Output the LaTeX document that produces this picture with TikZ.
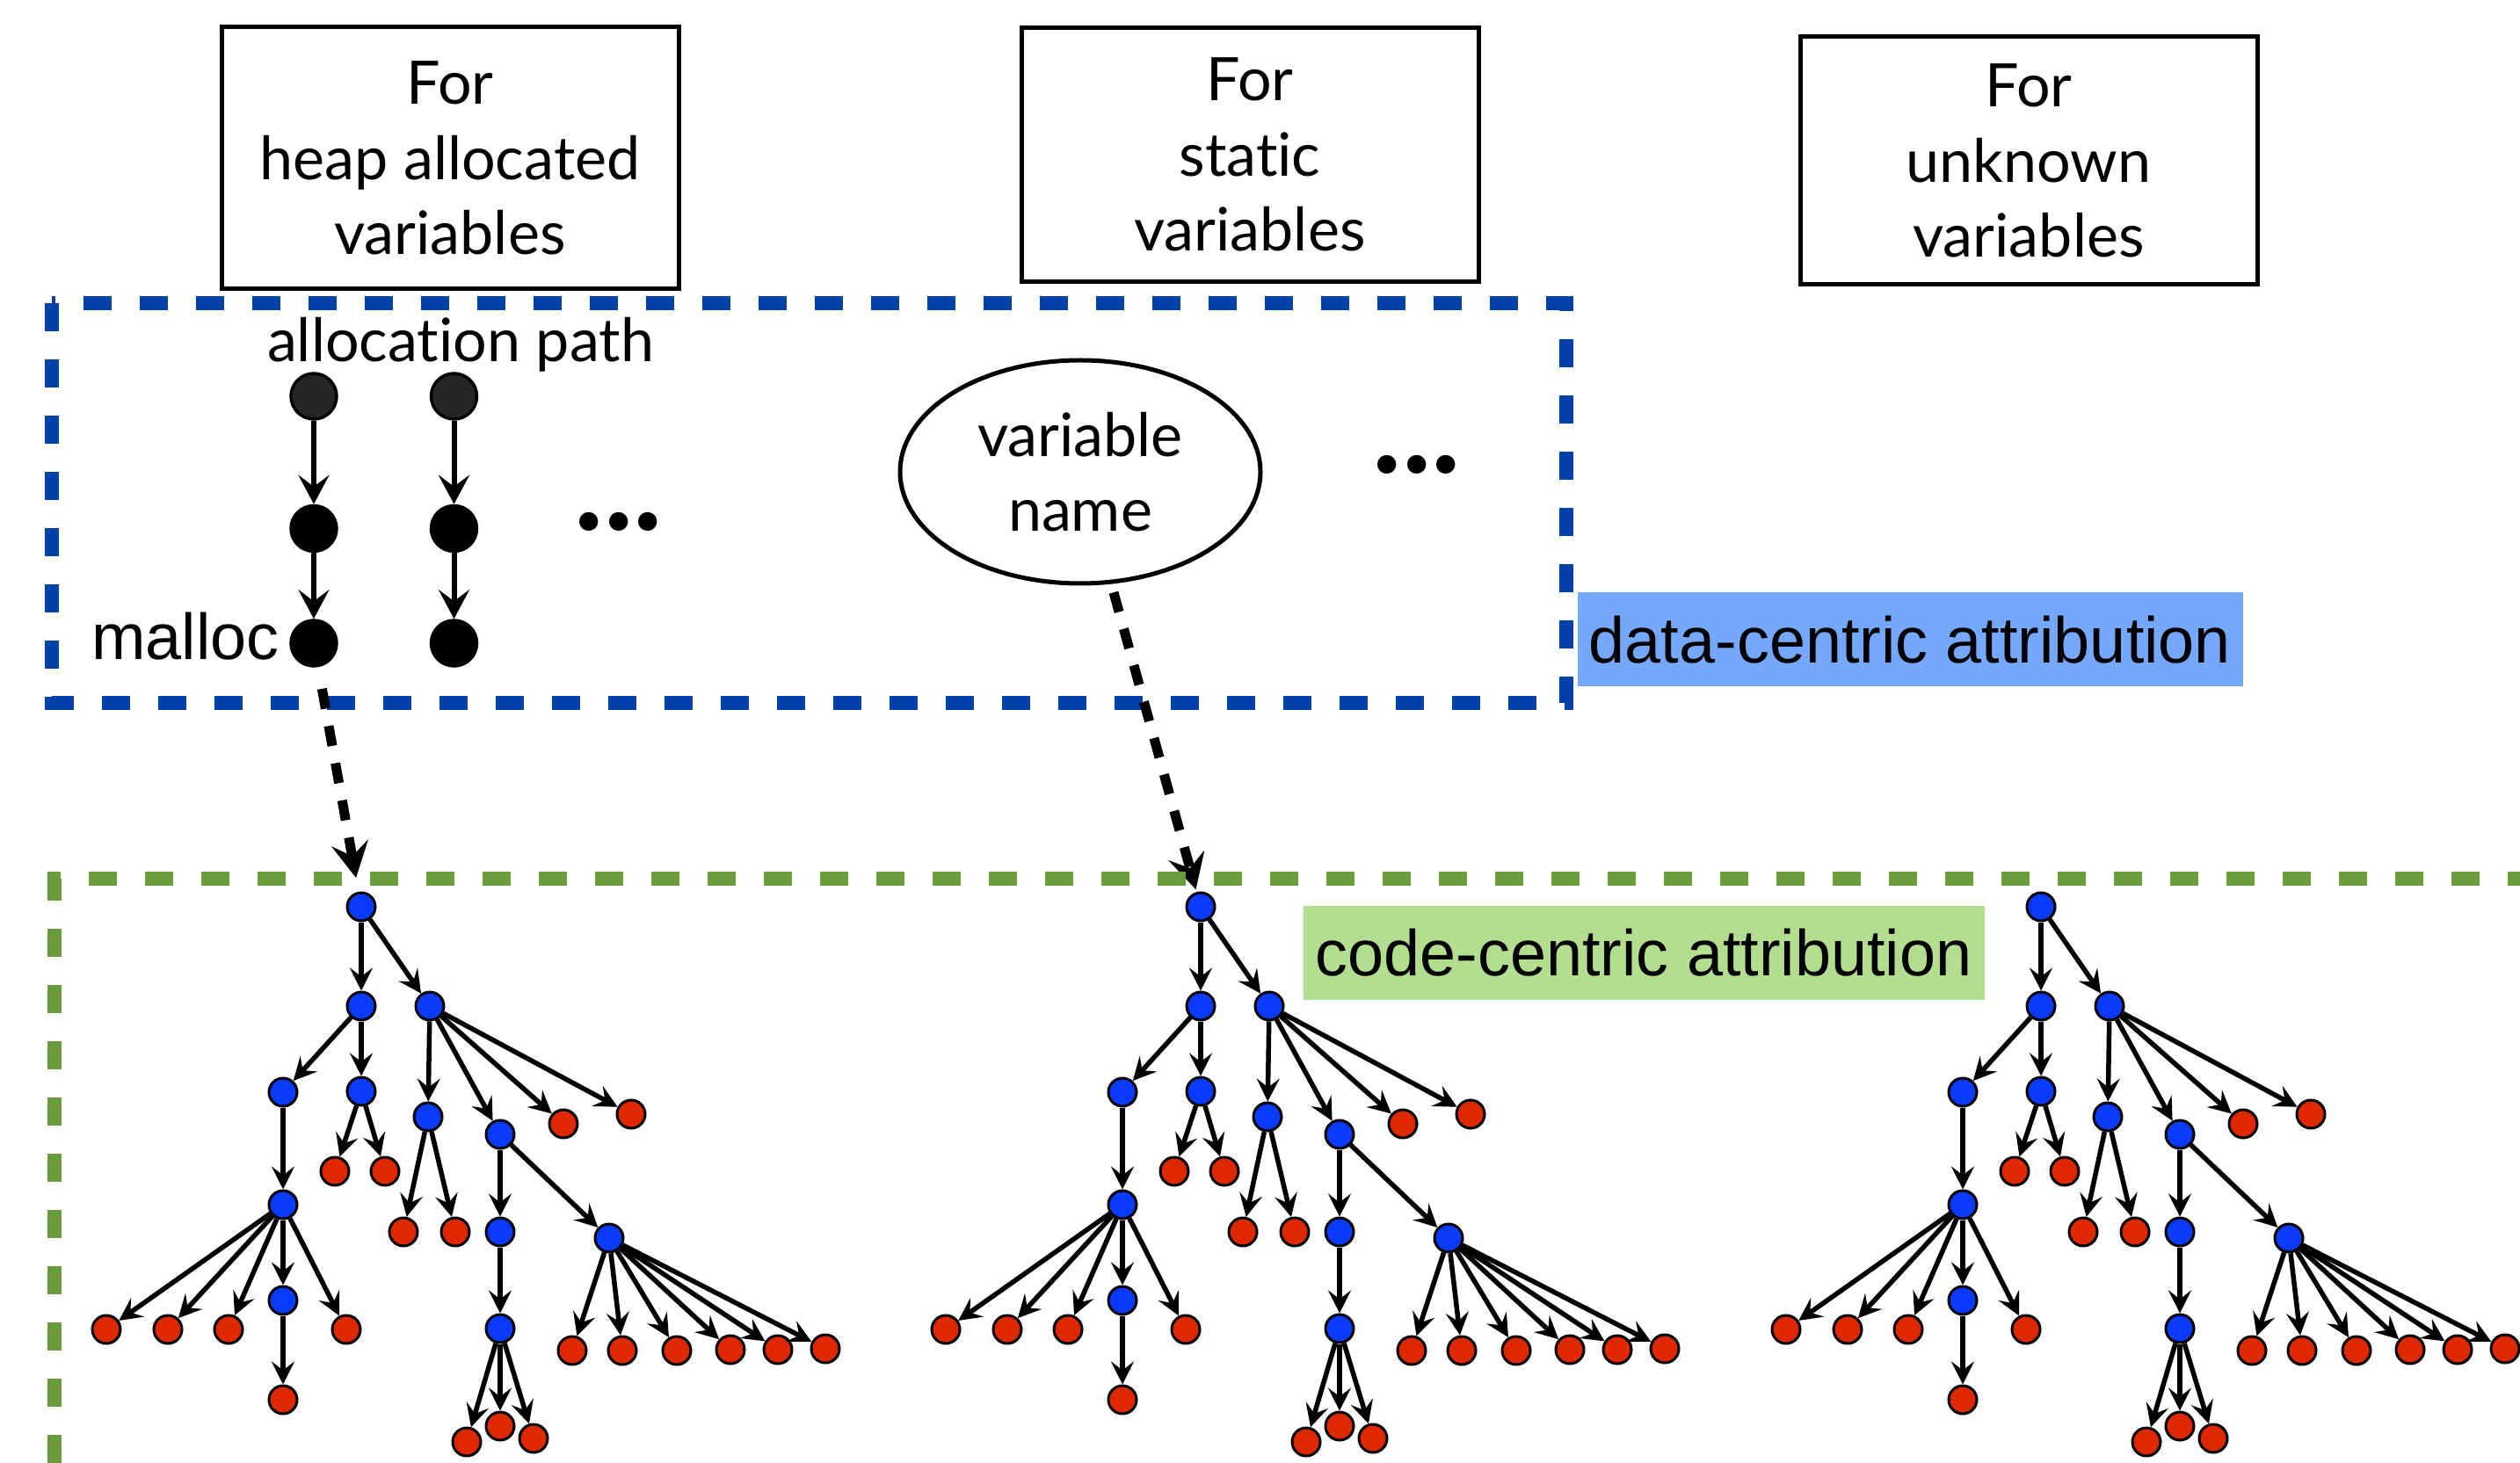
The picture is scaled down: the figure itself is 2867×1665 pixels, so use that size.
\documentclass[tikz,border=0pt]{standalone}
\usepackage{fontspec}
\setmainfont{Lato}[Ligatures={NoCommon,NoRare}]
\newfontfamily\arialfont{Liberation Sans}
\usepackage{tikz}
\usetikzlibrary{arrows.meta,positioning,shapes.geometric}

\definecolor{frameblue}{RGB}{0,65,170}
\definecolor{framegreen}{RGB}{106,156,58}
\definecolor{labelblue}{RGB}{117,167,251}
\definecolor{labelgreen}{RGB}{179,221,143}
\definecolor{nodeblue}{RGB}{10,58,250}
\definecolor{nodered}{RGB}{222,40,0}
\definecolor{pathgray}{RGB}{38,38,38}

% one calling context tree, same shape for every kind of variable
\newcommand{\calltree}{%
  \foreach \n/\x/\y in {root/411/1032, a/411/1145, b/489/1145, c/322/1243, d/411/1242,
      e/322/1371, f/322/1480, g/487/1271, h/569/1291, i/569/1402, k/693/1409, j/569/1512}
    \node[callnode] (\n) at (\x,\y) {};
  \foreach \n/\x/\y in {d1/381/1333, d2/438/1333, e1/121/1513, e2/191/1513, e3/260/1513,
      e5/394/1513, f1/322/1593, b3/641/1279, b4/718/1268, g1/459/1402, g2/518/1402,
      j1/531/1641, j2/569/1623, j3/607/1637, k1/651/1537, k2/708/1537, k3/770/1537,
      k4/831/1536, k5/885/1536, k6/939/1535}
    \node[leafnode] (\n) at (\x,\y) {};
  \foreach \s/\t in {root/a, root/b, a/c, a/d, d/d1, d/d2, c/e, e/e1, e/e2, e/e3, e/f,
      e/e5, f/f1, b/g, b/h, b/b3, b/b4, g/g1, g/g2, h/i, h/k, i/j, j/j1, j/j2, j/j3,
      k/k1, k/k2, k/k3, k/k4, k/k5, k/k6}
    \draw[callarrow] (\s) -- (\t);
}

\begin{document}
\begin{tikzpicture}[
    x=0.1mm, y=-0.1mm,
    varbox/.style={rectangle, draw, line width=0.5mm, minimum width=52mm, align=center, font=\fontsize{19.4}{24.3}\selectfont},
    pathnode/.style={circle, draw, line width=0.35mm, fill=black, minimum size=5.2mm, inner sep=0pt},
    callnode/.style={circle, draw, line width=0.3mm, fill=nodeblue, minimum size=3.2mm, inner sep=0pt},
    leafnode/.style={callnode, fill=nodered},
    callarrow/.style={-{Stealth[length=2.6mm, width=2.6mm, inset=1mm]}, line width=0.55mm},
    patharrow/.style={-{Stealth[length=3.3mm, width=3.5mm, inset=1.3mm]}, line width=0.6mm},
    linkarrow/.style={-{Stealth[length=4mm, width=4.2mm, inset=1.5mm]}, line width=1.1mm, dash pattern=on 2.3mm off 2mm},
    dashframe/.style={line width=1.6mm, dash pattern=on 3.2mm off 3.2mm},
    attrlabel/.style={minimum height=10.7mm, inner sep=0pt, font=\arialfont\fontsize{21}{25}\selectfont},
    moredots/.style={inner sep=0pt, font=\fontsize{40}{40}\selectfont\bfseries}
]
    \useasboundingbox (0,0) rectangle (2867,1665);

    % kinds of variables
    \node[varbox, minimum height=29.8mm] (heapbox) at (512,180) {For\\heap allocated\\variables};
    \node[varbox, minimum height=28.9mm] (staticbox) at (1422,176) {For\\static\\variables};
    \node[varbox, minimum height=28.2mm] (unknownbox) at (2308,183) {For\\unknown\\variables};

    % data-centric part
    \draw[dashframe, frameblue] (59,345) rectangle (1782,800);
    \node (allocpath) at (524,392) {\fontsize{19.4}{24.3}\selectfont allocation path};
    \node[pathnode, fill=pathgray] (pa1) at (357,451) {};
    \node[pathnode, below=9.5mm of pa1] (pa2) {};
    \node[pathnode, below=7.5mm of pa2] (pa3) {};
    \node[pathnode, fill=pathgray, right=10.4mm of pa1] (pb1) {};
    \node[pathnode, below=9.5mm of pb1] (pb2) {};
    \node[pathnode, below=7.5mm of pb2] (pb3) {};
    \draw[patharrow] (pa1) -- (pa2);
    \draw[patharrow] (pa2) -- (pa3);
    \draw[patharrow] (pb1) -- (pb2);
    \draw[patharrow] (pb2) -- (pb3);
    \node[left=1.1mm of pa3, yshift=0.8mm, inner sep=0pt, font=\arialfont\fontsize{21}{25}\selectfont] (malloc) {malloc};
    \node[moredots] (moreheap) at (704,594) {...};
    \node[ellipse, draw, line width=0.5mm, minimum width=41mm, minimum height=25.4mm, align=center,
          font=\fontsize{19.4}{24.3}\selectfont] (vname) at (1229,537) {variable\\name};
    \node[moredots] (morestatic) at (1612,529) {...};
    \node[attrlabel, fill=labelblue, minimum width=75.7mm] (datalab) at (2173,728) {data-centric attribution};

    % code-centric part
    \begin{scope}[name prefix=t1-]
        \calltree
    \end{scope}
    \begin{scope}[shift={(955,0)}, name prefix=t2-]
        \calltree
    \end{scope}
    \begin{scope}[shift={(1911,0)}, name prefix=t3-]
        \calltree
    \end{scope}

    \draw[linkarrow, shorten <=2.5mm, shorten >=1.6mm] (pa3) -- (t1-root);
    \draw[linkarrow, shorten <=1mm, shorten >=0.3mm] (vname) -- (t2-root);

    \draw[dashframe, framegreen] (62,1665) -- (62,1000) -- (2867,1000);
    \node[attrlabel, fill=labelgreen, minimum width=77.5mm] (codelab) at (1870,1084) {code-centric attribution};
\end{tikzpicture}
\end{document}
